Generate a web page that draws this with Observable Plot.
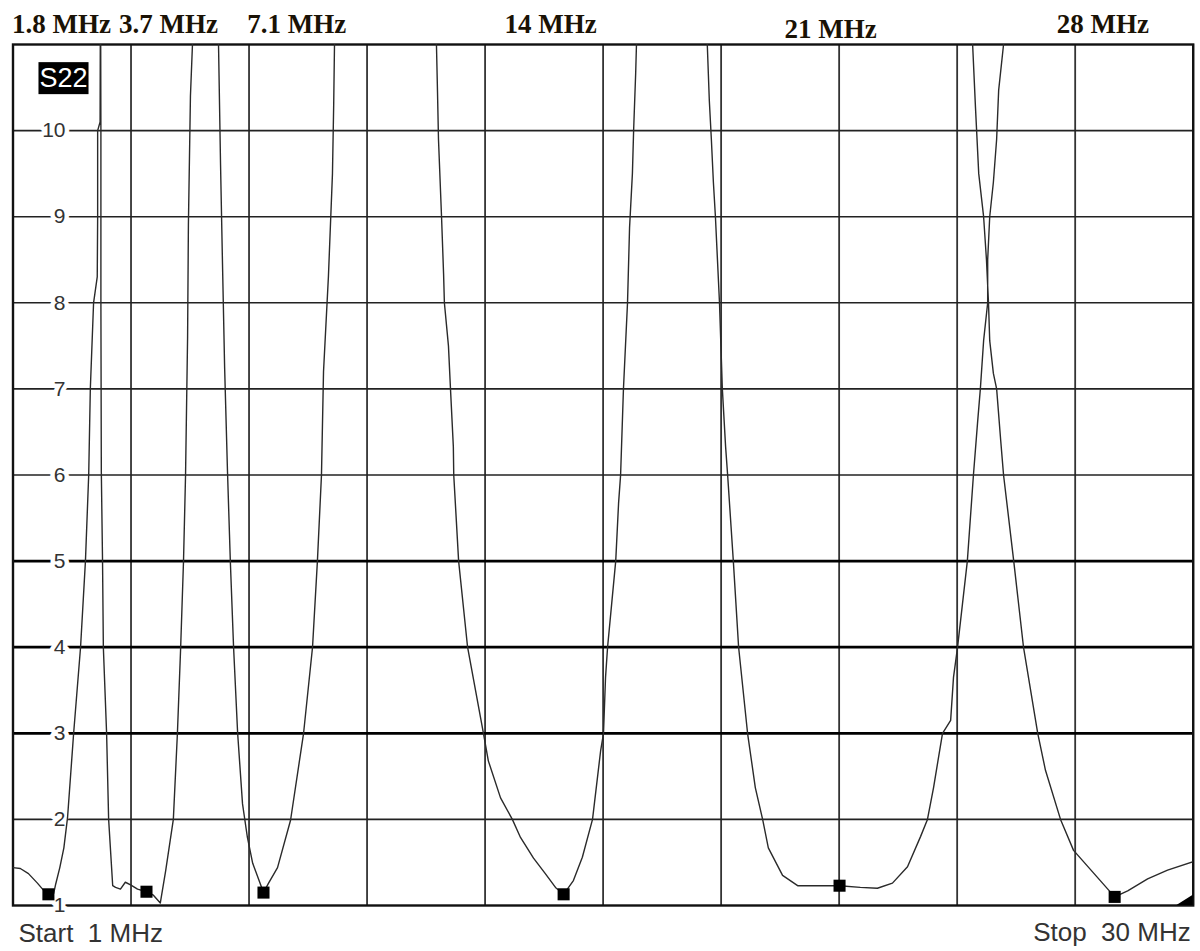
<!DOCTYPE html>
<html>
<head>
<meta charset="utf-8">
<script src="https://cdn.jsdelivr.net/npm/d3@7"></script>
<script src="https://cdn.jsdelivr.net/npm/@observablehq/plot@0.6"></script>
<style>
  html, body { margin: 0; padding: 0; background: #fff; }
  svg text { white-space: pre; }
</style>
</head>
<body>
<div id="chart"></div>
<script>
// ---- Data ----
// S22 SWR trace, frequency in MHz. Values above 11 lie off the top of the screen.
const freqMHz = [
  1.00, 1.18, 1.38, 1.60, 1.80, 1.90, 2.00, 2.05, 2.15, 2.25, 2.34, 2.49, 2.66, 2.78, 2.86, 2.90, 2.98, 3.07, 3.08, 3.08, 3.14, 3.15,
  3.16, 3.16, 3.17, 3.20, 3.22, 3.30, 3.35, 3.45, 3.52, 3.64, 3.76, 3.89, 4.06, 4.28, 4.45, 4.62, 4.75, 4.94, 5.04, 5.12, 5.19, 5.24, 5.29, 5.31, 5.36, 5.41, 5.73,
  6.05, 6.10, 6.15, 6.20, 6.27, 6.34, 6.42, 6.52, 6.64, 6.76, 6.89, 7.155, 7.28, 7.50, 7.82, 8.14, 8.36, 8.48, 8.58, 8.63, 8.75, 8.85, 8.88, 8.90, 10.15,
  11.405, 11.43, 11.455, 11.53, 11.58, 11.60, 11.70, 11.75, 11.82, 11.83, 11.95, 12.17, 12.56, 12.68, 12.98, 13.27, 13.47, 13.79, 14.08, 14.33, 14.53, 14.77, 14.99, 15.24, 15.44, 15.51, 15.56, 15.61, 15.71, 15.81, 15.88, 15.93, 16.00, 16.10, 16.15, 16.22, 16.25, 16.30, 16.32, 17.19,
  18.06, 18.11, 18.16, 18.21, 18.26, 18.31, 18.36, 18.43, 18.51, 18.56, 18.70, 18.83, 19.05, 19.24, 19.42, 19.56, 19.91, 20.28, 21.31, 21.82, 22.24, 22.61, 22.98, 23.30, 23.47, 23.62, 23.84, 24.04, 24.11, 24.21, 24.33, 24.45, 24.60, 24.70, 24.77, 24.85, 24.95, 24.95, 25.00, 25.09, 25.17, 25.22, 25.34, 25.40,
  24.50, 24.58, 24.65, 24.73, 24.85, 24.92, 24.97, 25.00, 25.09, 25.17, 25.27, 25.34, 25.59, 25.83, 26.18, 26.37, 26.74, 27.06, 28.07, 28.39, 28.88, 29.37, 30.00
];
const swr = [
  1.44, 1.43, 1.37, 1.26, 1.15, 1.11, 1.14, 1.25, 1.44, 1.67, 2.02, 3.0, 4.0, 5.0, 6.0, 7.0, 8.0, 8.3, 9.0, 10.0, 10.1, 12,
  10.0, 8.0, 6.05, 5.0, 4.0, 3.0, 2.0, 1.23, 1.21, 1.19, 1.27, 1.24, 1.19, 1.16, 1.12, 1.03, 1.40, 2.0, 3.0, 4.0, 5.0, 6.0, 7.6, 8.9, 10.4, 11.0, 12,
  11.0, 9.6, 8.4, 7.25, 6.05, 5.0, 4.0, 3.0, 2.18, 1.79, 1.49, 1.15, 1.26, 1.44, 1.99, 3.0, 4.0, 5.0, 6.0, 7.2, 8.3, 9.5, 10.3, 11.0, 12,
  11.0, 10.47, 9.9, 9.0, 8.34, 8.0, 7.5, 7.0, 6.33, 6.0, 5.0, 4.0, 3.0, 2.68, 2.25, 2.0, 1.79, 1.55, 1.37, 1.21, 1.13, 1.29, 1.56, 2.0, 2.8, 3.0, 3.65, 4.0, 4.5, 5.0, 5.67, 6.0, 7.0, 8.0, 8.87, 9.5, 10.0, 10.66, 11.0, 12,
  11.0, 10.35, 9.9, 9.4, 9.0, 8.5, 8.0, 7.0, 6.33, 6.0, 5.0, 4.0, 3.0, 2.37, 2.0, 1.67, 1.35, 1.23, 1.23, 1.21, 1.20, 1.26, 1.45, 1.80, 2.0, 2.37, 3.0, 3.15, 3.65, 4.0, 4.5, 5.0, 6.0, 6.6, 7.0, 7.56, 8.0, 8.5, 9.0, 9.4, 9.9, 10.47, 11.0, 12,
  12, 11.0, 10.27, 9.5, 9.0, 8.5, 8.0, 7.56, 7.18, 7.0, 6.4, 6.0, 5.0, 4.0, 3.0, 2.57, 2.0, 1.64, 1.10, 1.17, 1.31, 1.41, 1.51
];

// Markers (minima)
const markerMHz = [1.87, 4.28, 7.155, 14.53, 21.31, 28.07];
const markerSwr = [1.13, 1.16, 1.15, 1.13, 1.23, 1.10];

// Band labels along the top
const bandLabels = ["1.8 MHz", "3.7 MHz", "7.1 MHz", "14 MHz", "21 MHz", "28 MHz"];
const bandLabelMHz = [2.19, 4.82, 7.97, 14.21, 21.09, 27.78];
const bandLabelLow = [false, false, false, false, true, false];

// Grid / ticks
const xGridMHz = [1, 3.9, 6.8, 9.7, 12.6, 15.5, 18.4, 21.3, 24.2, 27.1, 30];
const yGridThin = [2, 6, 7, 8, 9, 10];
const yGridBold = [3, 4, 5];
const yTickLabels = [1, 2, 3, 4, 5, 6, 7, 8, 9, 10];

// Stop-marker triangle at bottom-right corner
const stopMarker = [{f: 29.6, v: 1.0}, {f: 30, v: 1.12}];

const trace = freqMHz.map((f, i) => ({f, v: swr[i]}));
const markers = markerMHz.map((f, i) => ({f, v: markerSwr[i]}));
const bands = bandLabels.map((t, i) => ({t, f: bandLabelMHz[i], low: bandLabelLow[i]}));

const sans = "'Liberation Sans', Arial, sans-serif";
const serif = "'Liberation Serif', 'Times New Roman', serif";

const plot = Plot.plot({
  width: 1200,
  height: 951,
  marginLeft: 12.5,
  marginRight: 7.3,
  marginTop: 44,
  marginBottom: 46,
  x: {domain: [1, 30], axis: null},
  y: {domain: [1, 11], axis: null},
  style: {background: "#fff", fontFamily: sans},
  marks: [
    Plot.ruleX(xGridMHz, {x: d => d, stroke: "#333", strokeWidth: 1.8}),
    Plot.ruleY(yGridThin, {y: d => d, stroke: "#222", strokeWidth: 1.6}),
    Plot.ruleY(yGridBold, {y: d => d, stroke: "#000", strokeWidth: 2.8}),
    Plot.frame({stroke: "#111", strokeWidth: 2.4}),
    Plot.text(yTickLabels, {
      y: d => d, frameAnchor: "left", dx: 52.5, text: d => String(d),
      textAnchor: "end", fill: "#333", stroke: "#fff", strokeWidth: 9,
      fontSize: 21, fontFamily: sans
    }),
    Plot.areaY(stopMarker, {x: "f", y1: 1, y2: "v", fill: "#000"}),
    Plot.line(trace, {x: "f", y: "v", stroke: "#2a2a2a", strokeWidth: 1.4, clip: true}),
    Plot.dot(markers, {x: "f", y: "v", symbol: "square", r: 6.8, fill: "#000", stroke: "none"}),
    Plot.text(bands.filter(d => !d.low), {
      x: "f", text: "t", frameAnchor: "top", lineAnchor: "top", dy: -31,
      fontSize: 27, fontWeight: "bold", fontFamily: serif, fill: "#1a1205"
    }),
    Plot.text(bands.filter(d => d.low), {
      x: "f", text: "t", frameAnchor: "top", lineAnchor: "top", dy: -26,
      fontSize: 27, fontWeight: "bold", fontFamily: serif, fill: "#1a1205"
    }),
    Plot.text(["S22"], {
      frameAnchor: "top-left", dx: 50.5, dy: 34, text: d => d,
      textAnchor: "middle", lineAnchor: "middle",
      fill: "#fff", fontSize: 27, fontFamily: sans
    }),
    Plot.text(["Start  1 MHz"], {
      frameAnchor: "bottom-left", dx: 5.5, dy: 18, lineAnchor: "top", text: d => d,
      textAnchor: "start", fill: "#333", fontSize: 26, fontFamily: sans
    }),
    Plot.text(["Stop  30 MHz"], {
      frameAnchor: "bottom-right", dx: -2.5, dy: 17, lineAnchor: "top", text: d => d,
      textAnchor: "end", fill: "#333", fontSize: 26, fontFamily: sans
    })
  ]
});

document.getElementById("chart").appendChild(plot);

// Black box behind the "S22" trace label (same transform as the text)
d3.select(plot).selectAll("text").filter(function () { return this.textContent === "S22"; })
  .each(function () {
    const b = this.getBBox();
    const padX = 1, padY = 2;
    const parent = this.parentNode;
    const rect = document.createElementNS("http://www.w3.org/2000/svg", "rect");
    const tf = this.getAttribute("transform");
    if (tf) rect.setAttribute("transform", tf);
    rect.setAttribute("x", b.x - padX);
    rect.setAttribute("y", b.y - padY + 1);
    rect.setAttribute("width", b.width + 2 * padX);
    rect.setAttribute("height", b.height + 2 * padY - 2);
    rect.setAttribute("fill", "#000");
    parent.insertBefore(rect, this);
  });
</script>
</body>
</html>
